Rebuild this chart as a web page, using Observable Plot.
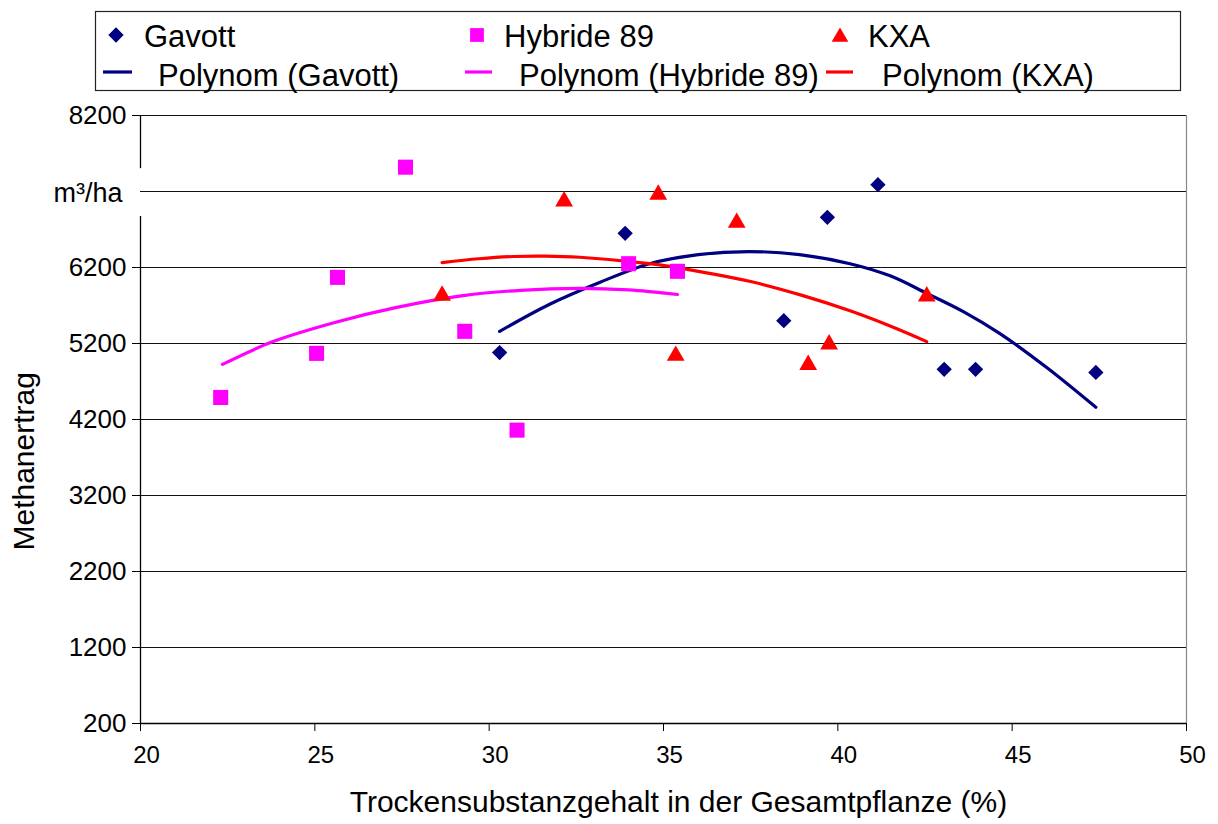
<!DOCTYPE html>
<html>
<head>
<meta charset="utf-8">
<script src="https://cdn.jsdelivr.net/npm/d3@7"></script>
<script src="https://cdn.jsdelivr.net/npm/@observablehq/plot@0.6"></script>
<style>
  html, body { margin: 0; padding: 0; background: #fff; }
  #wrap { width: 1218px; font-family: "Liberation Sans", Arial, sans-serif; }
  #wrap svg { display: block; }
</style>
</head>
<body>
<div id="wrap"></div>
<script>
// ---- data ----
const seriesNames = ["Gavott", "Hybride 89", "KXA"];
const trendNames = ["Polynom (Gavott)", "Polynom (Hybride 89)", "Polynom (KXA)"];
const seriesColors = ["#000080", "#ff00ff", "#ff0000"];

const gavottX = [30.3, 33.9, 38.45, 39.7, 41.15, 43.05, 43.95, 47.4];
const gavottY = [5080, 6650, 5500, 6860, 7290, 4860, 4860, 4820];

const hybrideX = [22.3, 25.05, 25.65, 27.6, 29.3, 30.8, 34.0, 35.4];
const hybrideY = [4490, 5070, 6070, 7520, 5360, 4060, 6250, 6150];

const kxaX = [28.65, 32.15, 34.85, 35.35, 37.1, 39.15, 39.75, 42.55];
const kxaY = [5830, 7070, 7160, 5040, 6790, 4920, 5190, 5820];

// trend curves
const gavottTrendX = [30.3, 31.75, 33.2, 34.6, 36.0, 37.45, 38.9, 40.35, 41.5, 42.55, 43.6, 44.65, 46.0, 47.4];
const gavottTrendY = [5360, 5720, 6010, 6250, 6370, 6410, 6370, 6250, 6090, 5860, 5620, 5330, 4880, 4360];

const hybrideTrendX = [22.35, 23.8, 25.6, 27.35, 29.25, 30.9, 32.6, 34.0, 35.4];
const hybrideTrendY = [4925, 5225, 5480, 5675, 5830, 5900, 5925, 5905, 5845];

const kxaTrendX = [28.65, 29.7, 30.7, 31.6, 32.6, 34.6, 36.0, 37.5, 39.0, 40.35, 41.5, 42.55];
const kxaTrendY = [6265, 6315, 6345, 6350, 6335, 6250, 6150, 6015, 5830, 5630, 5430, 5225];

const xTicks = [20, 25, 30, 35, 40, 45, 50];
const yTicks = [200, 1200, 2200, 3200, 4200, 5200, 6200, 8200];
const yGrid = [1200, 2200, 3200, 4200, 5200, 6200, 7200, 8200];
const unitLabel = "m³/ha";
const unitTick = 7200;
const xLabel = "Trockensubstanzgehalt in der Gesamtpflanze (%)";
const yLabel = "Methanertrag";
const yLabelAt = 3650;
const xDomain = [20, 50];
const yDomain = [200, 8200];

// ---- build tables ----
const symbols = ["diamond2", "square", "triangle"];
const pointSets = [[gavottX, gavottY], [hybrideX, hybrideY], [kxaX, kxaY]];
const trendSets = [[gavottTrendX, gavottTrendY], [hybrideTrendX, hybrideTrendY], [kxaTrendX, kxaTrendY]];
const points = [];
pointSets.forEach(([xs, ys], i) => xs.forEach((x, j) => points.push({series: seriesNames[i], x, y: ys[j], i})));
const trends = [];
trendSets.forEach(([xs, ys], i) => xs.forEach((x, j) => trends.push({series: seriesNames[i], x, y: ys[j], i})));

const font = '"Liberation Sans", Arial, sans-serif';
const wrap = document.getElementById("wrap");

// ---- legend (above the plot) ----
const leg = d3.create("svg").attr("width", 1218).attr("height", 100)
  .attr("font-family", font);
leg.append("rect").attr("x", 95.5).attr("y", 11.5).attr("width", 1085).attr("height", 79)
  .attr("fill", "#fff").attr("stroke", "#222").attr("stroke-width", 1.2);
const markerX = [116, 477, 840];
const labelX = [144, 504, 868];
const lineX = [[103, 132], [465, 492], [826, 853]];
const trendLabelX = [158, 519, 882];
const symbolTypes = [d3.symbolDiamond2, d3.symbolSquare, d3.symbolTriangle];
const symbolSizes = [150, 190, 120];
seriesNames.forEach((name, i) => {
  leg.append("path")
    .attr("d", d3.symbol(symbolTypes[i], symbolSizes[i])())
    .attr("transform", `translate(${markerX[i]},${i === 2 ? 37 : 35})`)
    .attr("fill", seriesColors[i]);
  leg.append("text").attr("x", labelX[i]).attr("y", 47).attr("font-size", 31).attr("fill", "#000").text(name);
  leg.append("line").attr("x1", lineX[i][0]).attr("x2", lineX[i][1]).attr("y1", 72).attr("y2", 72)
    .attr("stroke", seriesColors[i]).attr("stroke-width", 3.2);
  leg.append("text").attr("x", trendLabelX[i]).attr("y", 86).attr("font-size", 31).attr("fill", "#000").text(trendNames[i]);
});
wrap.appendChild(leg.node());

// ---- plot ----
const gapLow = 6870, gapHigh = 7500; // where the unit label covers the axis line
const chart = Plot.plot({
  width: 1218,
  height: 724,
  marginTop: 15,
  marginBottom: 101,
  marginLeft: 140,
  marginRight: 32,
  style: {fontFamily: font, background: "#fff", overflow: "visible"},
  x: {domain: xDomain, axis: null},
  y: {domain: yDomain, axis: null},
  color: {domain: seriesNames, range: seriesColors},
  symbol: {domain: seriesNames, range: symbols},
  marks: [
    Plot.ruleY(yGrid, {stroke: "#111", strokeWidth: 1.2}),
    Plot.ruleX([xDomain[1]], {stroke: "#888", strokeWidth: 1.2}),
    Plot.ruleX([{x: xDomain[0], y1: yDomain[0], y2: gapLow}, {x: xDomain[0], y1: gapHigh, y2: yDomain[1]}],
      {x: "x", y1: "y1", y2: "y2", stroke: "#000", strokeWidth: 1.3}),
    Plot.ruleY([yDomain[0]], {stroke: "#000", strokeWidth: 1.3}),
    Plot.axisX({ticks: xTicks, tickSize: 8, tickFormat: () => "", label: null, stroke: "#000"}),
    Plot.text(xTicks, {x: d => d, frameAnchor: "bottom", dy: 39, dx: 6, fontSize: 24, fill: "#000", text: d => String(d)}),
    Plot.axisY({ticks: yTicks, tickSize: 8, tickPadding: 6, fontSize: 26, tickFormat: d => String(d), label: null, stroke: "#000"}),
    Plot.text([unitLabel], {frameAnchor: "left", y: () => unitTick, textAnchor: "end", dx: -18, dy: 2, fontSize: 27, fill: "#000"}),
    Plot.text([xLabel], {frameAnchor: "bottom", dy: 88, dx: 15, fontSize: 30, fill: "#000"}),
    Plot.text([yLabel], {frameAnchor: "left", y: () => yLabelAt, rotate: -90, textAnchor: "middle", dx: -116, fontSize: 30, fill: "#000"}),
    Plot.line(trends, {x: "x", y: "y", z: "series", stroke: "series", strokeWidth: 3.2, curve: "catmull-rom"}),
    Plot.dot(points.filter(d => d.i === 0), {x: "x", y: "y", symbol: "series", fill: "series", r: 6.9}),
    Plot.dot(points.filter(d => d.i === 1), {x: "x", y: "y", symbol: "series", fill: "series", r: 8.5}),
    Plot.dot(points.filter(d => d.i === 2), {x: "x", y: "y", symbol: "series", fill: "series", r: 6.6})
  ]
});
wrap.appendChild(chart);
</script>
</body>
</html>
